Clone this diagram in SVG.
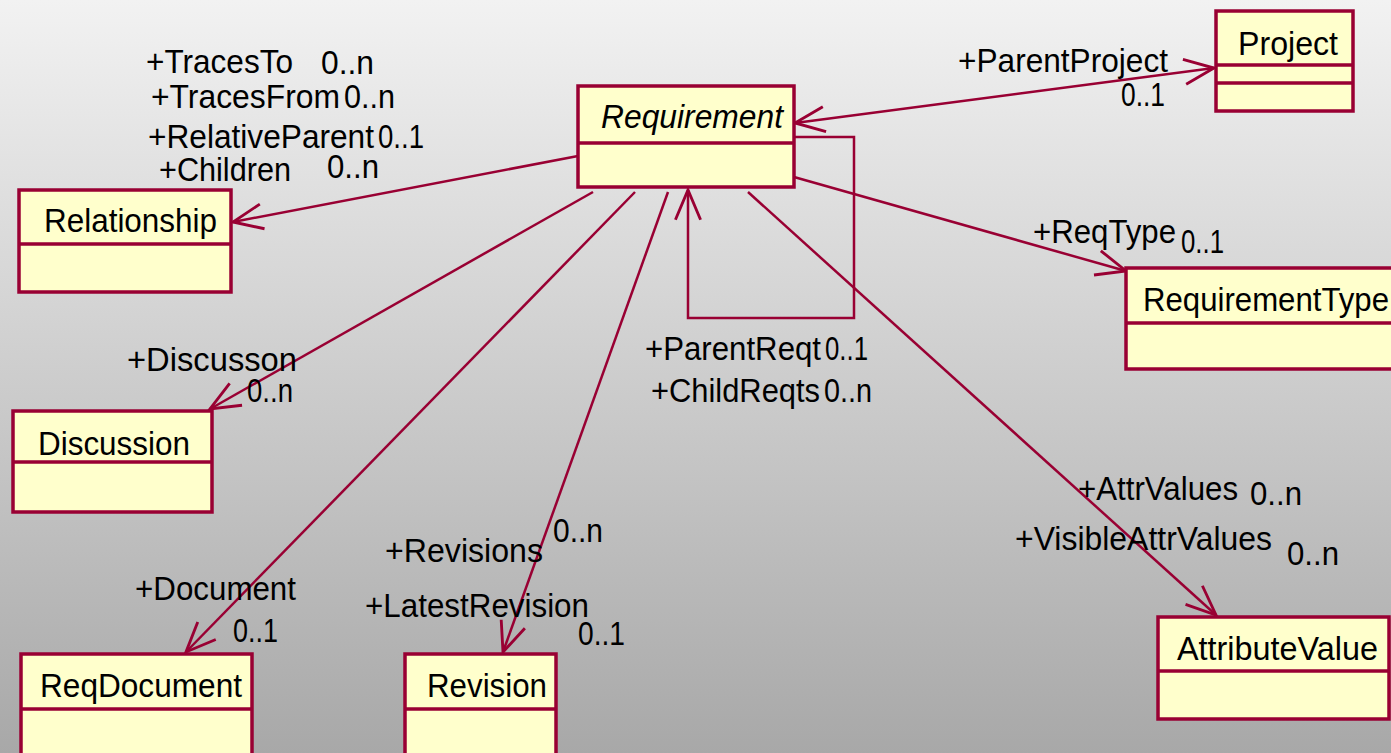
<svg xmlns="http://www.w3.org/2000/svg" width="1391" height="753" viewBox="0 0 1391 753">
<defs>
<linearGradient id="bg" x1="0" y1="0" x2="0" y2="1">
<stop offset="0" stop-color="#f2f2f2"/>
<stop offset="1" stop-color="#a8a8a8"/>
</linearGradient>
<marker id="open" markerUnits="userSpaceOnUse" markerWidth="40" markerHeight="40" viewBox="-30 -15 35 30" refX="0" refY="0" orient="auto-start-reverse">
<path d="M-26,-11 L0,0 L-26,11" fill="none" stroke="#990033" stroke-width="2.5"/>
</marker>
<style>
.box{fill:#ffffcc;stroke:#990033;stroke-width:3.5}
.div{stroke:#990033;stroke-width:3.5}
.c{fill:none;stroke:#990033;stroke-width:2.5}
.a{marker-end:url(#open)}
.t{font-family:"Liberation Sans",Arial,sans-serif;font-size:34px;fill:#000}
.i{font-style:italic}
</style>
</defs>
<rect x="0" y="0" width="1391" height="753" fill="url(#bg)"/>

<g id="connectors">
<path class="c a" d="M578,156 L233,222"/>
<path class="c a" d="M795,123 L1214,68" marker-start="url(#open)"/>
<path class="c a" d="M794,137 L854,137 L854,318 L688,318 L688,190"/>
<path class="c a" d="M794,177 L1126,271"/>
<path class="c a" d="M593,192 L210,409"/>
<path class="c a" d="M635,192 L186,652"/>
<path class="c a" d="M668,192 L503,652"/>
<path class="c a" d="M748,192 L1216,615"/>
</g>

<g id="Requirement">
<rect class="box" x="578" y="86" width="216" height="101"/>
<line class="div" x1="578" y1="143" x2="794" y2="143"/>
<text class="t i" x="601" y="128" textLength="182" lengthAdjust="spacingAndGlyphs">Requirement</text>
</g>
<g id="Project">
<rect class="box" x="1216" y="11" width="137" height="100"/>
<line class="div" x1="1216" y1="65" x2="1353" y2="65"/>
<line class="div" x1="1216" y1="83" x2="1353" y2="83"/>
<text class="t" x="1238" y="55" textLength="100" lengthAdjust="spacingAndGlyphs">Project</text>
</g>
<g id="Relationship">
<rect class="box" x="19" y="190" width="212" height="102"/>
<line class="div" x1="19" y1="244" x2="231" y2="244"/>
<text class="t" x="44" y="232" textLength="173" lengthAdjust="spacingAndGlyphs">Relationship</text>
</g>
<g id="RequirementType">
<rect class="box" x="1126" y="268" width="290" height="101"/>
<line class="div" x1="1126" y1="323" x2="1416" y2="323"/>
<text class="t" x="1143" y="311" textLength="246" lengthAdjust="spacingAndGlyphs">RequirementType</text>
</g>
<g id="Discussion">
<rect class="box" x="13" y="411" width="199" height="101"/>
<line class="div" x1="13" y1="462" x2="212" y2="462"/>
<text class="t" x="38" y="455" textLength="152" lengthAdjust="spacingAndGlyphs">Discussion</text>
</g>
<g id="ReqDocument">
<rect class="box" x="21" y="654" width="231" height="130"/>
<line class="div" x1="21" y1="709" x2="252" y2="709"/>
<text class="t" x="40" y="697" textLength="202" lengthAdjust="spacingAndGlyphs">ReqDocument</text>
</g>
<g id="Revision">
<rect class="box" x="405" y="654" width="151" height="130"/>
<line class="div" x1="405" y1="709" x2="556" y2="709"/>
<text class="t" x="427" y="697" textLength="120" lengthAdjust="spacingAndGlyphs">Revision</text>
</g>
<g id="AttributeValue">
<rect class="box" x="1158" y="617" width="231" height="102"/>
<line class="div" x1="1158" y1="671" x2="1389" y2="671"/>
<text class="t" x="1177" y="660" textLength="201" lengthAdjust="spacingAndGlyphs">AttributeValue</text>
</g>

<g id="labels">
<text class="t" x="146" y="73" textLength="147" lengthAdjust="spacingAndGlyphs">+TracesTo</text>
<text class="t" x="321" y="74" textLength="53" lengthAdjust="spacingAndGlyphs">0..n</text>
<text class="t" x="151" y="108" textLength="189" lengthAdjust="spacingAndGlyphs">+TracesFrom</text>
<text class="t" x="344" y="108" textLength="51" lengthAdjust="spacingAndGlyphs">0..n</text>
<text class="t" x="148" y="148" textLength="226" lengthAdjust="spacingAndGlyphs">+RelativeParent</text>
<text class="t" x="378" y="148" textLength="46" lengthAdjust="spacingAndGlyphs">0..1</text>
<text class="t" x="159" y="181" textLength="132" lengthAdjust="spacingAndGlyphs">+Children</text>
<text class="t" x="327" y="178" textLength="52" lengthAdjust="spacingAndGlyphs">0..n</text>
<text class="t" x="958" y="72" textLength="210" lengthAdjust="spacingAndGlyphs">+ParentProject</text>
<text class="t" x="1121" y="106" textLength="44" lengthAdjust="spacingAndGlyphs">0..1</text>
<text class="t" x="1033" y="243" textLength="143" lengthAdjust="spacingAndGlyphs">+ReqType</text>
<text class="t" x="1181" y="253" textLength="43" lengthAdjust="spacingAndGlyphs">0..1</text>
<text class="t" x="645" y="360" textLength="176" lengthAdjust="spacingAndGlyphs">+ParentReqt</text>
<text class="t" x="825" y="360" textLength="43" lengthAdjust="spacingAndGlyphs">0..1</text>
<text class="t" x="651" y="402" textLength="169" lengthAdjust="spacingAndGlyphs">+ChildReqts</text>
<text class="t" x="824" y="402" textLength="48" lengthAdjust="spacingAndGlyphs">0..n</text>
<text class="t" x="127" y="371" textLength="170" lengthAdjust="spacingAndGlyphs">+Discusson</text>
<text class="t" x="247" y="402" textLength="46" lengthAdjust="spacingAndGlyphs">0..n</text>
<text class="t" x="135" y="600" textLength="161" lengthAdjust="spacingAndGlyphs">+Document</text>
<text class="t" x="233" y="642" textLength="45" lengthAdjust="spacingAndGlyphs">0..1</text>
<text class="t" x="385" y="562" textLength="158" lengthAdjust="spacingAndGlyphs">+Revisions</text>
<text class="t" x="553" y="542" textLength="50" lengthAdjust="spacingAndGlyphs">0..n</text>
<text class="t" x="365" y="617" textLength="224" lengthAdjust="spacingAndGlyphs">+LatestRevision</text>
<text class="t" x="578" y="645" textLength="47" lengthAdjust="spacingAndGlyphs">0..1</text>
<text class="t" x="1078" y="500" textLength="160" lengthAdjust="spacingAndGlyphs">+AttrValues</text>
<text class="t" x="1250" y="505" textLength="52" lengthAdjust="spacingAndGlyphs">0..n</text>
<text class="t" x="1015" y="550" textLength="257" lengthAdjust="spacingAndGlyphs">+VisibleAttrValues</text>
<text class="t" x="1287" y="565" textLength="52" lengthAdjust="spacingAndGlyphs">0..n</text>
</g>
</svg>
